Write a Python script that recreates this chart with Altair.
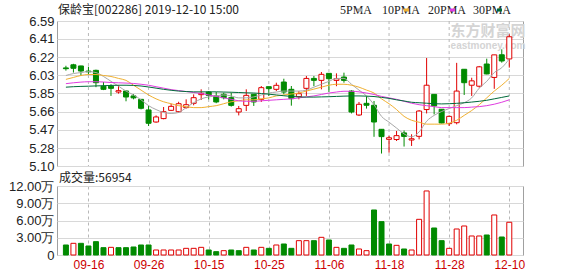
import json
import altair as alt
import pandas as pd

# ---------------- data ----------------
dates = ["09-10", "09-11", "09-12", "09-16", "09-17", "09-18", "09-19", "09-20", "09-23", "09-24",
         "09-25", "09-26", "09-27", "09-30", "10-08", "10-09", "10-10", "10-11", "10-14", "10-15",
         "10-16", "10-17", "10-18", "10-21", "10-22", "10-23", "10-24", "10-25", "10-28", "10-29",
         "10-30", "10-31", "11-01", "11-04", "11-05", "11-06", "11-07", "11-08", "11-11", "11-12",
         "11-13", "11-14", "11-15", "11-18", "11-19", "11-20", "11-21", "11-22", "11-25", "11-26",
         "11-27", "11-28", "11-29", "12-02", "12-03", "12-04", "12-05", "12-06", "12-09", "12-10"]

opens = [6.108, 6.140, 6.128, 6.075, 6.083, 5.920, 5.920, 5.860, 5.871, 5.820,
         5.785, 5.676, 5.552, 5.587, 5.672, 5.658, 5.700, 5.744, 5.833, 5.860,
         5.820, 5.837, 5.802, 5.655, 5.723, 5.837, 5.785, 5.915, 5.888, 5.963,
         5.888, 5.812, 5.898, 6.000, 5.980, 6.052, 5.980, 6.014, 5.870, 5.624,
         5.744, 5.724, 5.477, 5.374, 5.372, 5.440, 5.367, 5.405, 5.680, 5.836,
         5.683, 5.535, 5.545, 6.094, 5.930, 5.920, 6.148, 6.010, 6.243, 6.200]
highs = [6.130, 6.150, 6.130, 6.120, 6.090, 5.963, 5.940, 5.930, 5.875, 5.840,
         5.785, 5.717, 5.620, 5.706, 5.740, 5.760, 5.785, 5.836, 5.888, 5.870,
         5.860, 5.854, 5.854, 5.717, 5.888, 5.840, 5.922, 5.915, 5.956, 5.997,
         5.922, 5.870, 6.025, 6.025, 6.066, 6.052, 6.052, 6.059, 5.880, 5.758,
         5.820, 5.768, 5.477, 5.410, 5.460, 5.465, 5.426, 5.675, 6.210, 5.836,
         5.683, 5.620, 6.160, 6.094, 6.007, 6.128, 6.203, 6.242, 6.299, 6.453]
lows = [6.080, 6.060, 6.025, 6.040, 5.910, 5.880, 5.820, 5.844, 5.765, 5.785,
        5.682, 5.511, 5.545, 5.580, 5.665, 5.648, 5.690, 5.724, 5.778, 5.785,
        5.745, 5.785, 5.710, 5.620, 5.665, 5.717, 5.758, 5.820, 5.870, 5.836,
        5.720, 5.785, 5.820, 5.920, 5.888, 5.860, 5.920, 5.956, 5.640, 5.614,
        5.690, 5.400, 5.228, 5.237, 5.357, 5.300, 5.306, 5.374, 5.640, 5.630,
        5.538, 5.511, 5.528, 5.830, 5.820, 5.905, 6.042, 5.893, 6.162, 6.111]
closes = [6.100, 6.104, 6.076, 6.068, 5.956, 5.888, 5.898, 5.874, 5.809, 5.800,
          5.693, 5.539, 5.604, 5.658, 5.713, 5.740, 5.730, 5.802, 5.847, 5.826,
          5.758, 5.802, 5.723, 5.689, 5.826, 5.758, 5.905, 5.895, 5.929, 5.860,
          5.792, 5.843, 6.000, 5.980, 6.042, 5.997, 5.997, 5.980, 5.655, 5.734,
          5.724, 5.552, 5.402, 5.390, 5.412, 5.404, 5.380, 5.665, 5.930, 5.717,
          5.542, 5.610, 5.870, 5.956, 5.975, 6.119, 6.046, 6.242, 6.179, 6.428]

volumes = [17400, 20300, 20300, 15660, 23200, 12760, 13340, 12760, 12760, 13920,
           17400, 17400, 8700, 8700, 8700, 8700, 11600, 11600, 13340, 8700,
           5800, 7540, 8700, 7540, 13340, 8700, 13340, 11600, 17400, 19140,
           11600, 24940, 24940, 24940, 30740, 26100, 13340, 11600, 17400, 10440,
           7540, 78300, 58000, 19140, 16820, 10440, 8700, 62060, 111360, 46980,
           24940, 11600, 45240, 50460, 33060, 33060, 34800, 69600, 31320, 56954]
# 1 = red (up) volume bar, 0 = green (down) volume bar
vol_up = [0, 1, 0, 0, 0, 0, 1, 0, 0, 0,
          0, 0, 1, 1, 1, 1, 1, 1, 1, 0,
          0, 1, 0, 0, 1, 0, 1, 0, 1, 0,
          0, 1, 1, 0, 1, 0, 1, 0, 0, 1,
          1, 0, 0, 0, 1, 0, 1, 1, 1, 0,
          0, 1, 1, 1, 1, 1, 0, 1, 0, 1]

ma5 = [6.03, 6.05, 6.06, 6.07, 6.06, 6.02, 5.97, 5.92, 5.87, 5.83,
       5.78, 5.72, 5.68, 5.65, 5.64, 5.65, 5.70, 5.75, 5.79, 5.81,
       5.82, 5.83, 5.82, 5.80, 5.80, 5.81, 5.83, 5.85, 5.86, 5.87,
       5.87, 5.87, 5.88, 5.91, 5.94, 5.97, 6.00, 6.00, 5.94, 5.88,
       5.82, 5.73, 5.61, 5.55, 5.49, 5.43, 5.40, 5.45, 5.56, 5.62,
       5.66, 5.69, 5.72, 5.75, 5.80, 5.90, 5.97, 6.06, 6.11, 6.20]
ma10 = [5.99, 6.01, 6.03, 6.04, 6.04, 6.03, 6.02, 6.00, 5.98, 5.93,
        5.88, 5.83, 5.79, 5.76, 5.74, 5.72, 5.71, 5.70, 5.70, 5.71,
        5.72, 5.74, 5.76, 5.77, 5.78, 5.78, 5.79, 5.80, 5.82, 5.83,
        5.84, 5.85, 5.87, 5.89, 5.91, 5.93, 5.94, 5.94, 5.93, 5.91,
        5.88, 5.85, 5.79, 5.74, 5.68, 5.61, 5.57, 5.55, 5.53, 5.53,
        5.53, 5.54, 5.57, 5.62, 5.67, 5.73, 5.80, 5.87, 5.93, 6.00]
ma20 = [5.946, 5.955, 5.962, 5.966, 5.966, 5.963, 5.958, 5.955, 5.952, 5.948,
        5.940, 5.930, 5.915, 5.900, 5.885, 5.875, 5.865, 5.855, 5.845, 5.830,
        5.815, 5.800, 5.785, 5.770, 5.765, 5.765, 5.770, 5.775, 5.780, 5.785,
        5.790, 5.800, 5.810, 5.820, 5.835, 5.850, 5.860, 5.868, 5.868, 5.862,
        5.850, 5.835, 5.815, 5.800, 5.785, 5.765, 5.745, 5.730, 5.720, 5.710,
        5.700, 5.700, 5.700, 5.700, 5.705, 5.710, 5.720, 5.735, 5.755, 5.780]
ma30 = [5.910, 5.915, 5.918, 5.920, 5.923, 5.925, 5.928, 5.930, 5.930, 5.928,
        5.922, 5.912, 5.900, 5.888, 5.878, 5.870, 5.865, 5.862, 5.862, 5.862,
        5.862, 5.860, 5.858, 5.855, 5.852, 5.850, 5.845, 5.838, 5.830, 5.822,
        5.815, 5.810, 5.808, 5.808, 5.810, 5.812, 5.815, 5.818, 5.820, 5.820,
        5.818, 5.814, 5.805, 5.795, 5.780, 5.768, 5.755, 5.750, 5.745, 5.740,
        5.738, 5.740, 5.744, 5.750, 5.757, 5.765, 5.775, 5.790, 5.805, 5.820]

ma_names = ["5PMA", "10PMA", "20PMA", "30PMA"]
ma_colors = ["#a8a8a8", "#f0b030", "#e03ce0", "#006a3a"]
price_ticks = [5.10, 5.28, 5.47, 5.66, 5.85, 6.03, 6.22, 6.41, 6.59]
vol_ticks = [0, 30000, 60000, 90000, 120000]
label_days = ["09-16", "09-26", "10-15", "10-25", "11-06", "11-18", "11-28", "12-10"]
title_text = "保龄宝[002286] 2019-12-10 15:00"
vol_title = "成交量:56954"

# ---------------- tables ----------------
RED = "#e00000"
GREEN = "#008a00"
n = len(dates)
df = pd.DataFrame({
    "idx": list(range(n)), "date": dates, "open": opens, "high": highs,
    "low": lows, "close": closes, "volume": volumes,
})
df["dir"] = ["up" if c >= o else "down" for o, c in zip(opens, closes)]
df["vdir"] = ["up" if u else "down" for u in vol_up]

ma_df = pd.DataFrame({
    "idx": list(range(n)) * 4,
    "name": sum([[nm] * n for nm in ma_names], []),
    "value": ma5 + ma10 + ma20 + ma30,
})
label_idx = [dates.index(d) for d in label_days]
vgrid_df = pd.DataFrame({"idx": label_idx})

W = 466
PH = 145
VH = 69
xscale = alt.Scale(domain=[-0.52, 60.16], nice=False, zero=False)
label_expr = json.dumps(dates) + "[datum.value]"

stroke_scale = alt.Scale(domain=["up", "down"], range=[RED, GREEN])
fill_scale = alt.Scale(domain=["up", "down"], range=["#ffffff", GREEN])
ma_scale = alt.Scale(domain=ma_names, range=ma_colors)

y_price = alt.Scale(domain=[5.10, 6.59], nice=False, zero=False)
y_price_axis = alt.Axis(values=price_ticks, format=".2f", grid=True, gridColor="#d8d8d8",
                        ticks=False, domain=False, title=None, labelFont="Liberation Sans",
                        labelFontSize=13, labelColor="#222222", labelPadding=3,
                        labelOverlap=False, labelBound=False, minExtent=56, maxExtent=56)

vgrid = alt.Chart(vgrid_df).mark_rule(strokeDash=[3, 3], color="#b8b8b8", strokeWidth=1).encode(
    x=alt.X("idx:Q", scale=xscale, axis=None)
)
base = alt.Chart(df)
wicks = base.mark_rule(strokeWidth=1).encode(
    x=alt.X("idx:Q", scale=xscale, axis=None),
    y=alt.Y("low:Q", scale=y_price, axis=y_price_axis),
    y2="high:Q",
    stroke=alt.Stroke("dir:N", scale=stroke_scale, legend=None),
)
bodies = base.mark_bar(size=5, strokeWidth=1).encode(
    x=alt.X("idx:Q", scale=xscale, axis=None),
    y=alt.Y("open:Q", scale=y_price, axis=y_price_axis),
    y2="close:Q",
    fill=alt.Fill("dir:N", scale=fill_scale, legend=None),
    stroke=alt.Stroke("dir:N", scale=stroke_scale, legend=None),
)
lines = alt.Chart(ma_df).mark_line(strokeWidth=1, interpolate="monotone").encode(
    x=alt.X("idx:Q", scale=xscale, axis=None),
    y=alt.Y("value:Q", scale=y_price, axis=y_price_axis),
    color=alt.Color("name:N", scale=ma_scale, legend=None),
)

# title and MA legend above the price panel
title_mark = alt.Chart(pd.DataFrame({"t": [title_text]})).mark_text(
    align="left", baseline="middle", font="Noto Sans CJK SC", fontSize=12, color="#222222"
).encode(x=alt.value(1), y=alt.value(-11), text="t:N")

leg_text_x = [283, 325, 371, 416]
leg_dash_x = [300, 347, 393, 440]
leg_df = pd.DataFrame({"name": ma_names, "tx": leg_text_x, "dx": leg_dash_x,
                       "dx2": [v + 5 for v in leg_dash_x]})
leg_text = alt.Chart(leg_df).mark_text(
    align="left", baseline="middle", font="Liberation Serif", fontSize=12, color="#222222"
).encode(x=alt.X("tx:Q", scale=None), y=alt.value(-11), text="name:N")
leg_dash = alt.Chart(leg_df).mark_rule(strokeWidth=3).encode(
    x=alt.X("dx:Q", scale=None), x2="dx2:Q", y=alt.value(-11),
    color=alt.Color("name:N", scale=ma_scale, legend=None),
)

wm1 = alt.Chart(pd.DataFrame({"t": ["东方财富网"]})).mark_text(
    align="center", baseline="middle", font="Noto Sans CJK SC", fontSize=15,
    fontWeight="bold", color="#d4d4d4"
).encode(x=alt.value(431), y=alt.value(10), text="t:N")
wm2 = alt.Chart(pd.DataFrame({"t": ["eastmoney.com"]})).mark_text(
    align="center", baseline="middle", font="Liberation Sans", fontSize=10,
    fontWeight="bold", color="#d4d4d4"
).encode(x=alt.value(431), y=alt.value(25), text="t:N")

price = alt.layer(vgrid, wm1, wm2, wicks, bodies, lines, title_mark, leg_text, leg_dash).properties(
    width=W, height=PH)

# volume panel
vol_axis = alt.Axis(values=vol_ticks,
                    labelExpr="datum.value == 0 ? '0' : format(datum.value / 10000, '.2f') + '万'",
                    grid=True, gridColor="#d8d8d8", ticks=False, domain=False, title=None,
                    labelFont="Liberation Sans", labelFontSize=13, labelColor="#222222",
                    labelPadding=3, labelOverlap=False, minExtent=56, maxExtent=56)
x_vol = alt.X("idx:Q", scale=xscale,
              axis=alt.Axis(values=label_idx, labelExpr=label_expr, ticks=False, domain=False,
                            grid=True, gridDash=[3, 3], gridColor="#b8b8b8", title=None,
                            labelFont="Liberation Sans", labelFontSize=12, labelColor="#cc0000",
                            labelPadding=4, labelOverlap=False))
vol_bars = alt.Chart(df).mark_bar(size=5, strokeWidth=1).encode(
    x=x_vol,
    y=alt.Y("volume:Q", scale=alt.Scale(domain=[0, 120000], nice=False), axis=vol_axis),
    fill=alt.Fill("vdir:N", scale=fill_scale, legend=None),
    stroke=alt.Stroke("vdir:N", scale=stroke_scale, legend=None),
)
vol_title_mark = alt.Chart(pd.DataFrame({"t": [vol_title]})).mark_text(
    align="left", baseline="middle", font="Noto Sans CJK SC", fontSize=12, color="#222222"
).encode(x=alt.value(2), y=alt.value(-8), text="t:N")
volume = alt.layer(vol_bars, vol_title_mark).properties(width=W, height=VH)

chart = alt.vconcat(price, volume, spacing=-3).properties(
    padding={"left": 0, "top": 3, "right": 0, "bottom": 0},
    background="white",
).configure_view(stroke="#a0a0a0", strokeWidth=1)

chart.save("out.html", embed_options={"renderer": "svg", "actions": False})
